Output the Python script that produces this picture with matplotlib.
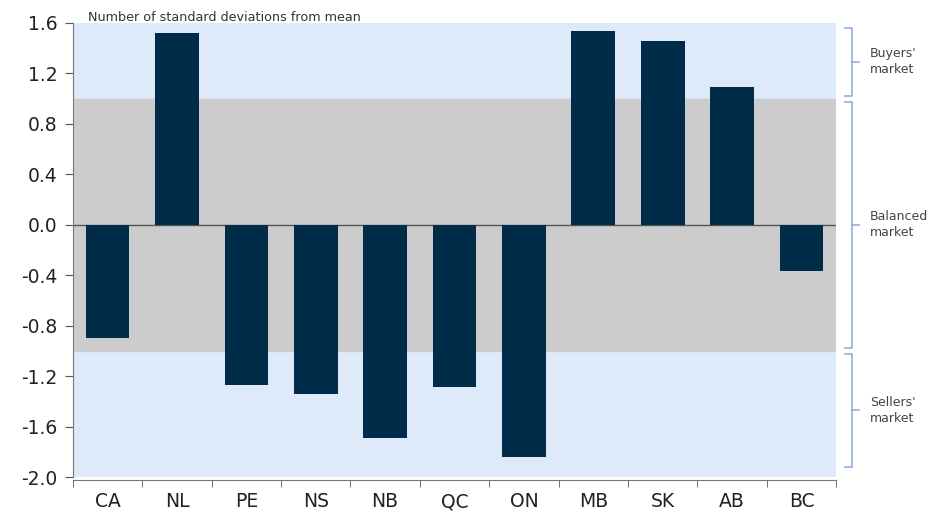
import numpy as np
import matplotlib.pyplot as plt
import matplotlib.transforms as mtransforms

provinces = ['CA', 'NL', 'PE', 'NS', 'NB', 'QC', 'ON', 'MB', 'SK', 'AB', 'BC']
std_devs = [-0.90, 1.52, -1.27, -1.34, -1.69, -1.29, -1.84, 1.54, 1.46, 1.09, -0.37]
y_ticks = [1.6, 1.2, 0.8, 0.4, 0.0, -0.4, -0.8, -1.2, -1.6, -2.0]
zones = [("Buyers'\nmarket", 1.585, 1.0), ("Balanced\nmarket", 1.0, -1.0), ("Sellers'\nmarket", -1.0, -1.945)]

plt.rcParams['font.family'] = ['DejaVu Sans']

fig = plt.figure(figsize=(9.47, 5.11), dpi=100)
ax = fig.add_axes([0.077, 0.0665, 0.806, 0.8885])
ax.set_facecolor('#deeafa')

x = np.arange(len(provinces))
ax.axhspan(-1.0, 1.0, color='#cccccc', zorder=0)
ax.axhline(0, color='#555555', lw=1, zorder=1)
ax.bar(x, std_devs, width=0.63, color='#002b49', zorder=2)

ax.set_xlim(-0.5, len(provinces) - 0.5)
ax.set_ylim(-2.0, 1.6)
ax.set_yticks(y_ticks, ['%.1f' % v for v in y_ticks])
ax.set_xticks(x, provinces)
ax.set_xticks(np.arange(len(provinces) + 1) - 0.5, minor=True)
ax.tick_params(axis='x', which='major', length=0, pad=9, labelsize=13.5, labelcolor='#222222')
ax.tick_params(axis='x', which='minor', length=5, color='#555555', direction='out')
ax.tick_params(axis='y', length=6, color='#555555', pad=5, labelsize=13.5, labelcolor='#222222')

for s in ['top', 'right']:
    ax.spines[s].set_visible(False)
ax.spines['left'].set_color('#777777')
ax.spines['bottom'].set_color('#777777')
ax.spines['bottom'].set_position(('outward', 2))

ax.text(0.02, 0.998, 'Number of standard deviations from mean', transform=ax.transAxes,
        fontsize=9.2, color='#333333', va='bottom', ha='left')

# brackets on the right
trans = mtransforms.blended_transform_factory(ax.transAxes, ax.transData)
bc = '#8fb0dd'
gap = 0.025
for label, top, bot in zones:
    t, b = top - gap, bot + gap
    mid = (top + bot) / 2
    ax.plot([1.012, 1.021, 1.021, 1.012], [t, t, b, b], color=bc, lw=1.2,
            transform=trans, clip_on=False)
    ax.plot([1.021, 1.030], [mid, mid], color=bc, lw=1.2, transform=trans, clip_on=False)
    ax.text(1.044, mid, label, transform=trans, fontsize=9, color='#444444',
            va='center', ha='left', linespacing=1.3)

fig.savefig('out.png', dpi=100)
